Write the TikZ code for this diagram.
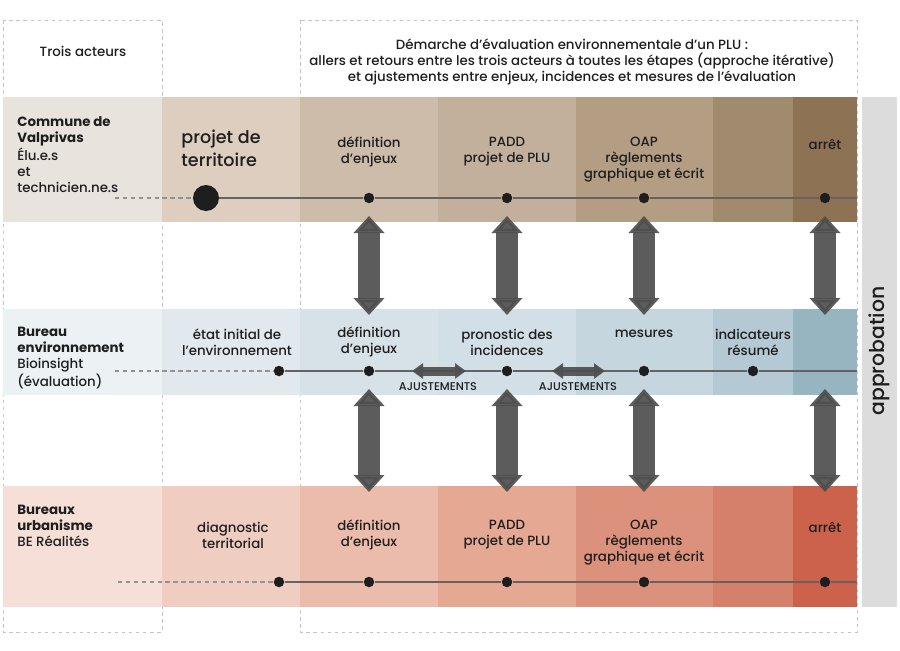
\documentclass[tikz,border=0pt]{standalone}
\usepackage{fontspec}
\setmainfont{Poppins}[UprightFont={* Medium},BoldFont={* Bold}]
\usetikzlibrary{arrows.meta}

\definecolor{ink}{HTML}{1E1E1E}
\definecolor{framegray}{HTML}{C4C4C4}
\definecolor{linegray}{HTML}{666262}
\definecolor{arrowgray}{HTML}{4E4E4E}
\definecolor{approgray}{HTML}{DCDCDC}
% commune
\definecolor{brA}{HTML}{E9E3DE}
\definecolor{brB}{HTML}{DDCEC0}
\definecolor{brC}{HTML}{CDBCAA}
\definecolor{brD}{HTML}{C3B09C}
\definecolor{brE}{HTML}{B39E84}
\definecolor{brF}{HTML}{A18B6E}
\definecolor{brG}{HTML}{8D7253}
% bureau environnement
\definecolor{blA}{HTML}{ECF1F4}
\definecolor{blB}{HTML}{E1E9EE}
\definecolor{blC}{HTML}{D7E2E8}
\definecolor{blD}{HTML}{D3DFE6}
\definecolor{blE}{HTML}{C5D6DF}
\definecolor{blF}{HTML}{B4C9D4}
\definecolor{blG}{HTML}{97B4C1}
% bureaux urbanisme
\definecolor{rdA}{HTML}{F5DFD7}
\definecolor{rdB}{HTML}{F0CDC1}
\definecolor{rdC}{HTML}{EBBBAC}
\definecolor{rdD}{HTML}{E5A893}
\definecolor{rdE}{HTML}{DB917B}
\definecolor{rdF}{HTML}{D5806A}
\definecolor{rdG}{HTML}{CC614C}

\begin{document}
\begin{tikzpicture}[x=0.02cm,y=-0.02cm,
    txt/.style={align=center,text=ink,yshift=-0.04cm,font=\fontsize{7.6}{9.1}\selectfont},
    actor/.style={align=left,anchor=west,inner xsep=0pt,text=ink,yshift=-0.04cm,font=\fontsize{7.6}{9.1}\selectfont},
    dot/.style={circle,fill=ink,inner sep=0pt,minimum size=0.21cm},
    bigdot/.style={circle,fill=ink,inner sep=0pt,minimum size=0.52cm},
    frame/.style={draw=framegray,line width=0.4pt,dash pattern=on 2pt off 2pt},
    tline/.style={draw=linegray,line width=0.6pt},
    tdash/.style={draw=linegray!70,line width=0.6pt,dash pattern=on 2.5pt off 2pt},
    bigarrow/.style={draw=arrowgray,opacity=0.92,line width=0.44cm,
      {Triangle[width=0.6cm,length=0.34cm]}-{Triangle[width=0.6cm,length=0.34cm]}},
    adjarrow/.style={draw=arrowgray,opacity=0.92,line width=0.18cm,
      {Triangle[width=0.3cm,length=0.22cm]}-{Triangle[width=0.3cm,length=0.22cm]}},
    adjtxt/.style={text=ink,font=\fontsize{6.4}{7}\selectfont}]
\useasboundingbox (0,0) rectangle (900,650);

% Dashed frames
\draw[frame] (3,20) rectangle (162,632);
\draw[frame] (300,20) rectangle (857,632);

% Three rows, one shade per step
\foreach \xa/\xb/\ca/\cb/\cc in {3/162/brA/blA/rdA, 162/300/brB/blB/rdB,
    300/438/brC/blC/rdC, 438/576/brD/blD/rdD, 576/713/brE/blE/rdE,
    713/793/brF/blF/rdF, 793/857/brG/blG/rdG} {
  \fill[\ca] (\xa,97) rectangle (\xb,222);
  \fill[\cb] (\xa,309) rectangle (\xb,395);
  \fill[\cc] (\xa,486) rectangle (\xb,607);
}

% Approbation bar
\fill[approgray] (862,97) rectangle (897,607);
\node[rotate=90,text=ink,font=\fontsize{11.6}{13}\selectfont] (appro) at (879,351) {approbation};

% Header
\node[txt] (acteurs) at (83,49) {Trois acteurs};
\node[txt] (titre) at (572,60) {Démarche d’évaluation environnementale d’un PLU :\\
  allers et retours entre les trois acteurs à toutes les étapes (approche itérative)\\
  et ajustements entre enjeux, incidences et mesures de l’évaluation};

% Row 1: commune
\node[actor] (commune) at (17,153) {\textbf{Commune de}\\\textbf{Valprivas}\\Élu.e.s\\et\\technicien.ne.s};
\node[txt,align=left,font=\fontsize{10}{13}\selectfont] (projet) at (221,146) {projet de\\territoire};
\node[txt] (enjeuxA) at (369,150) {définition\\d’enjeux};
\node[txt] (paddA) at (507,150) {PADD\\projet de PLU};
\node[txt] (oapA) at (644,158) {OAP\\règlements\\graphique et écrit};
\node[txt] (arretA) at (825,142) {arrêt};

\coordinate (sA) at (115,198);
\coordinate (eA) at (857,198);
\node[bigdot] (pA) at (206,198) {};
\node[dot] (dA1) at (369,198) {};
\node[dot] (dA2) at (507,198) {};
\node[dot] (dA3) at (644,198) {};
\node[dot] (dA4) at (825,198) {};
\draw[tdash] (sA) -- (pA);
\draw[tline] (pA) -- (dA1) -- (dA2) -- (dA3) -- (dA4) -- (eA);

% Row 2: bureau environnement
\node[actor] (bureau) at (17,356) {\textbf{Bureau}\\\textbf{environnement}\\Bioinsight\\(évaluation)};
\node[txt] (etat) at (237,340) {état initial de\\l’environnement};
\node[txt] (enjeuxB) at (369,340) {définition\\d’enjeux};
\node[txt] (prono) at (507,340) {pronostic des\\incidences};
\node[txt] (mesures) at (644,332) {mesures};
\node[txt] (indic) at (753,340) {indicateurs\\résumé};

\coordinate (sB) at (115,371);
\coordinate (eB) at (857,371);
\node[dot] (dB0) at (279,371) {};
\node[dot] (dB1) at (369,371) {};
\node[dot] (dB2) at (507,371) {};
\node[dot] (dB3) at (644,371) {};
\node[dot] (dB4) at (753,371) {};
\draw[tdash] (sB) -- (dB0);
\draw[tline] (dB0) -- (dB1) -- (dB2) -- (dB3) -- (dB4) -- (eB);

% Row 3: bureaux urbanisme
\node[actor] (urba) at (17,524) {\textbf{Bureaux}\\\textbf{urbanisme}\\BE Réalités};
\node[txt] (diag) at (233,533) {diagnostic\\territorial};
\node[txt] (enjeuxC) at (369,533) {définition\\d’enjeux};
\node[txt] (paddC) at (507,533) {PADD\\projet de PLU};
\node[txt] (oapC) at (644,541) {OAP\\règlements\\graphique et écrit};
\node[txt] (arretC) at (825,525) {arrêt};

\coordinate (sC) at (118,582);
\coordinate (eC) at (857,582);
\node[dot] (dC0) at (279,582) {};
\node[dot] (dC1) at (369,582) {};
\node[dot] (dC2) at (507,582) {};
\node[dot] (dC3) at (644,582) {};
\node[dot] (dC4) at (825,582) {};
\draw[tdash] (sC) -- (dC0);
\draw[tline] (dC0) -- (dC1) -- (dC2) -- (dC3) -- (dC4) -- (eC);

% Back and forth between the actors
\foreach \x [count=\i] in {369,507,644,825} {
  \coordinate (up\i) at (\x,216);
  \coordinate (mu\i) at (\x,315);
  \coordinate (md\i) at (\x,389);
  \coordinate (lo\i) at (\x,492);
  \draw[bigarrow] (up\i) -- (mu\i);
  \draw[bigarrow] (md\i) -- (lo\i);
}

% Ajustements
\coordinate (ajAl) at (412,371);
\coordinate (ajAr) at (466,371);
\coordinate (ajBl) at (552,371);
\coordinate (ajBr) at (605,371);
\draw[adjarrow] (ajAl) -- (ajAr);
\draw[adjarrow] (ajBl) -- (ajBr);
\node[adjtxt] (ajA) at (438,387) {AJUSTEMENTS};
\node[adjtxt] (ajB) at (578,387) {AJUSTEMENTS};

\end{tikzpicture}
\end{document}
